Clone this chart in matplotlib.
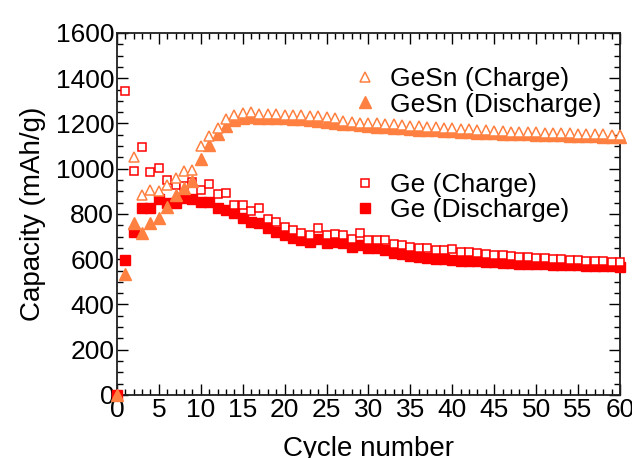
import numpy as np
import matplotlib.pyplot as plt
from matplotlib.ticker import MultipleLocator

plt.rcParams["font.family"] = ["Liberation Sans", "DejaVu Sans"]

# cycle numbers
cycles_discharge = list(range(0, 61))
cycles_ge_charge = list(range(1, 61))
cycles_gesn_charge = list(range(2, 61))

# Ge electrode (mAh/g)
ge_charge = [1345, 990, 1097, 987, 1005, 950, 928, 925, 943, 906,
             931, 888, 892, 840, 840, 815, 828, 780, 763, 744,
             729, 715, 707, 736, 705, 710, 709, 688, 716, 685,
             685, 685, 668, 663, 656, 651, 651, 642, 642, 645,
             634, 630, 627, 622, 620, 617, 614, 611, 609, 606,
             604, 601, 599, 597, 595, 593, 591, 590, 588, 586]
ge_discharge = [0, 597, 722, 828, 825, 865, 850, 850, 869, 865,
                855, 855, 827, 818, 803, 781, 766, 759, 737, 722,
                707, 692, 685, 678, 690, 670, 678, 670, 656, 664,
                648, 648, 641, 629, 623, 615, 609, 607, 601, 599,
                597, 594, 592, 590, 588, 586, 584, 582, 581, 579,
                578, 577, 576, 575, 574, 573, 572, 571, 570, 569, 567]

# GeSn electrode (mAh/g)
gesn_charge = [1051, 884, 906, 903, 928, 960, 991, 995, 1099, 1143,
               1180, 1220, 1236, 1248, 1252, 1244, 1241, 1241, 1239, 1238,
               1237, 1234, 1234, 1230, 1222, 1213, 1208, 1203, 1202, 1200,
               1199, 1196, 1193, 1190, 1188, 1186, 1183, 1181, 1178, 1176,
               1174, 1172, 1170, 1168, 1166, 1164, 1163, 1162, 1161, 1160,
               1158, 1157, 1156, 1155, 1154, 1153, 1152, 1151, 1150]
gesn_discharge = [0, 535, 759, 718, 759, 781, 833, 883, 914, 946,
                  1043, 1105, 1152, 1188, 1215, 1225, 1228, 1226, 1224, 1222,
                  1222, 1220, 1218, 1215, 1212, 1206, 1203, 1198, 1196, 1192,
                  1188, 1186, 1184, 1181, 1178, 1175, 1173, 1171, 1169, 1167,
                  1165, 1163, 1161, 1159, 1157, 1156, 1155, 1154, 1153, 1152,
                  1150, 1149, 1148, 1147, 1146, 1145, 1144, 1143, 1142, 1141, 1140]

red = "#ff0000"
orange = "#ff8040"

fig = plt.figure(figsize=(6.32, 4.58), dpi=100)
ax = fig.add_axes([0.185, 0.1376, 0.796, 0.7904])

ge_d, = ax.plot(cycles_discharge, ge_discharge, "s", color=red, ms=6.8,
                mec=red, clip_on=False, zorder=3)
ge_c, = ax.plot(cycles_ge_charge, ge_charge, "s", mfc="white", mec=red,
                ms=6.3, mew=1.1, clip_on=False, zorder=4)
gesn_d, = ax.plot(cycles_discharge, gesn_discharge, "^", color=orange, ms=8.3,
                  mec=orange, clip_on=False, zorder=5)
gesn_c, = ax.plot(cycles_gesn_charge, gesn_charge, "^", mfc="white",
                  mec=orange, ms=7.8, mew=1.1, clip_on=False, zorder=6)

ax.set_xlim(0, 60)
ax.set_ylim(0, 1600)
ax.xaxis.set_major_locator(MultipleLocator(5))
ax.xaxis.set_minor_locator(MultipleLocator(1))
ax.yaxis.set_major_locator(MultipleLocator(200))
ax.yaxis.set_minor_locator(MultipleLocator(50))
ax.tick_params(which="both", direction="in", top=True, right=True,
               labelsize=19, width=1, pad=2)
ax.tick_params(which="major", length=8)
ax.tick_params(which="minor", length=4)
for s in ax.spines.values():
    s.set_linewidth(1.3)
    s.set_color("#202020")

ax.set_xlabel("Cycle number", fontsize=20, labelpad=10)
ax.set_ylabel("Capacity (mAh/g)", fontsize=20, labelpad=7)

leg_kw = dict(loc="upper left", frameon=False, fontsize=19, handlelength=1,
              handletextpad=0.45, labelspacing=0.05, borderpad=0,
              borderaxespad=0)
leg1 = ax.legend([gesn_c, gesn_d], ["GeSn (Charge)", "GeSn (Discharge)"],
                 bbox_to_anchor=(0.467, 0.905), **leg_kw)
ax.add_artist(leg1)
ax.legend([ge_c, ge_d], ["Ge (Charge)", "Ge (Discharge)"],
          bbox_to_anchor=(0.467, 0.613), **leg_kw)

fig.savefig("out.png", dpi=100)
